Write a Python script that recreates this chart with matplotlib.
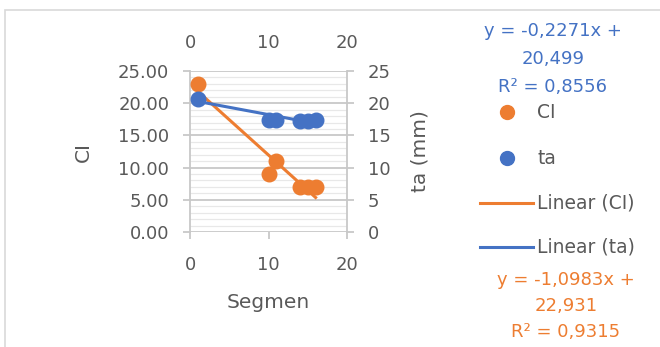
import matplotlib.pyplot as plt
from matplotlib.patches import Rectangle
import numpy as np

plt.rcParams['font.family'] = ['DejaVu Sans']

# data
segmen = [1, 10, 11, 14, 15, 16]
ci = [23, 9, 11, 7, 7, 7]
ta = [20.6, 17.4, 17.4, 17.2, 17.2, 17.4]

# trendline coefficients (as printed on the chart)
ci_fit = (-1.0983, 22.931)
ta_fit = (-0.2271, 20.499)
ci_eq = "y = -1,0983x +\n22,931\nR² = 0,9315"
ta_eq = "y = -0,2271x +\n20,499\nR² = 0,8556"

orange = "#ED7D31"
blue = "#4472C4"
txt = "#595959"
grid = "#C8C8C8"

fig = plt.figure(figsize=(6.6, 3.47), dpi=100)
fig.patches.append(Rectangle((5 / 660, -0.1), 1.2, 1 - 10 / 347 + 0.1, transform=fig.transFigure,
                             fill=False, edgecolor="#D9D9D9", lw=1.2))

ax = fig.add_axes([190 / 660, 1 - 232 / 347, 157 / 660, 161 / 347])
ax.set_xlim(0, 20)
ax.set_ylim(0, 25)
ax.set_yticks(np.arange(0, 26, 5))
ax.set_yticks(np.arange(0, 26, 1), minor=True)
ax.set_yticklabels([f"{v:.2f}" for v in np.arange(0, 26, 5)])
ax.set_xticks([0, 10, 20])
ax.grid(axis="y", which="minor", color="#E8E8E8", lw=0.9)
ax.grid(axis="y", which="major", color=grid, lw=1.3)
ax.set_axisbelow(True)
for s in ["top", "bottom"]:
    ax.spines[s].set_visible(False)
for s in ["left", "right"]:
    ax.spines[s].set_color(grid)
    ax.spines[s].set_linewidth(1.3)
ax.tick_params(which="major", length=5, width=1.3, color=grid, labelcolor=txt, labelsize=13, pad=10)
ax.tick_params(which="minor", length=0)
ax.tick_params(axis="x", top=True, pad=12)
ax.set_xlabel("Segmen", color=txt, fontsize=14.5, labelpad=14)
ax.set_ylabel("CI", color=txt, fontsize=14.5, labelpad=18)

xs = np.array([segmen[0], segmen[-1]])
ax.plot(xs, ci_fit[0] * xs + ci_fit[1], color=orange, lw=2.2, zorder=3)
ax.scatter(segmen, ci, s=110, color=orange, zorder=4)

ax2 = ax.twinx()
ax2.set_ylim(0, 25)
ax2.set_yticks(np.arange(0, 26, 5))
ax2.tick_params(length=5, width=1.3, color=grid, labelcolor=txt, labelsize=13, pad=10)
for s in ax2.spines.values():
    s.set_visible(False)
ax2.set_ylabel("ta (mm)", color=txt, fontsize=14.5, labelpad=14)
ax2.plot(xs, ta_fit[0] * xs + ta_fit[1], color=blue, lw=2.2, zorder=3)
ax2.scatter(segmen, ta, s=110, color=blue, zorder=4)

ax3 = ax.twiny()
ax3.set_xlim(0, 20)
ax3.set_xticks([0, 10, 20])
ax3.tick_params(length=0, labelcolor=txt, labelsize=13, pad=14)
for s in ax3.spines.values():
    s.set_visible(False)

# legend drawn by hand
fx = lambda px: px / 660
fy = lambda py: 1 - py / 347
fig.text(fx(553), fy(59), ta_eq, color=blue, fontsize=13, ha="center", va="center", linespacing=1.68)
fig.text(fx(566), fy(306), ci_eq, color=orange, fontsize=13, ha="center", va="center", linespacing=1.58)
fig.lines.append(plt.Line2D([fx(507)], [fy(112)], marker="o", ms=10, color=orange, transform=fig.transFigure))
fig.lines.append(plt.Line2D([fx(507)], [fy(158)], marker="o", ms=10, color=blue, transform=fig.transFigure))
fig.lines.append(plt.Line2D([fx(480), fx(533)], [fy(203)] * 2, lw=2.2, color=orange, transform=fig.transFigure))
fig.lines.append(plt.Line2D([fx(480), fx(533)], [fy(247)] * 2, lw=2.2, color=blue, transform=fig.transFigure))
for label, py in [("CI", 112), ("ta", 158), ("Linear (CI)", 203), ("Linear (ta)", 247)]:
    fig.text(fx(537), fy(py), label, color=txt, fontsize=13.5, va="center")

fig.savefig("out.png", dpi=100)
